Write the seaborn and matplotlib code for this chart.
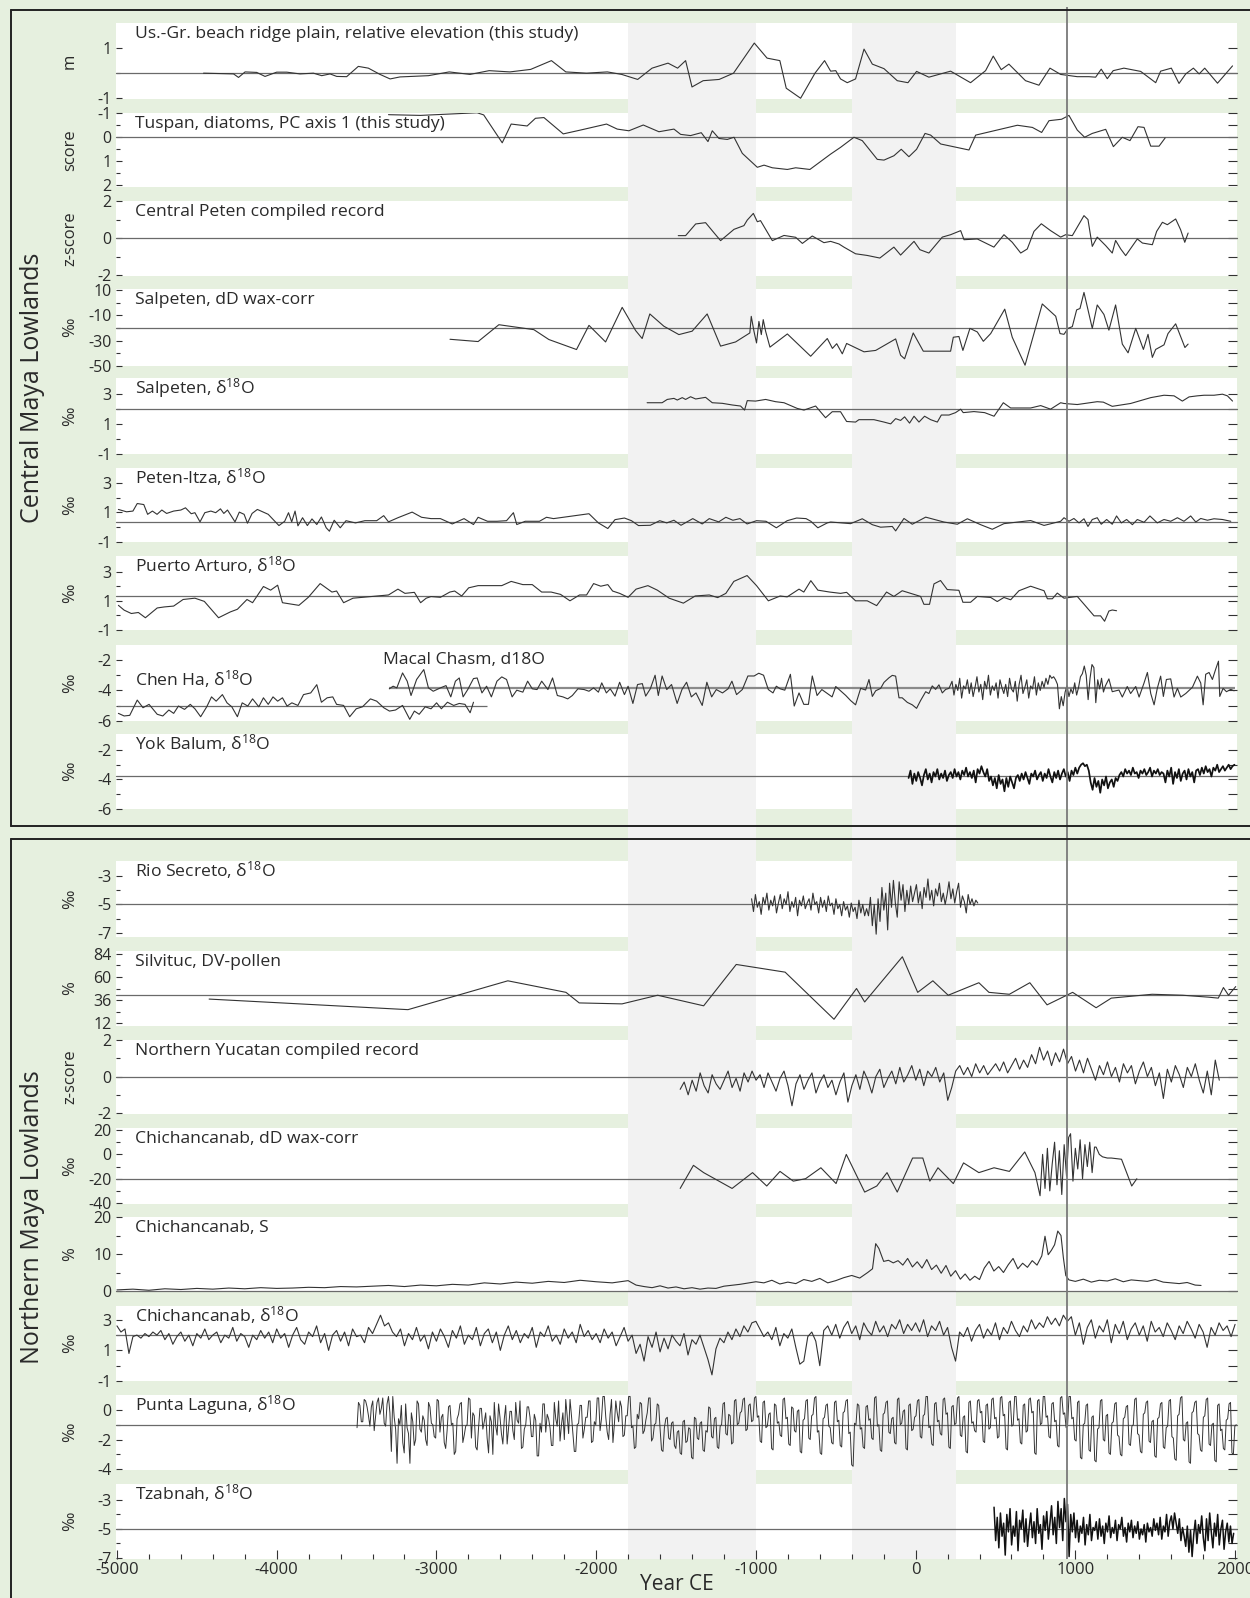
import numpy as np
import matplotlib
matplotlib.use("Agg")
import matplotlib.pyplot as plt
import seaborn as sns
from matplotlib.lines import Line2D

# ---------------------------------------------------------------- data
usgr = [(-4458,0),(-4270,-0.03),(-4239,-0.17),(-4198,0.05),(-4125,0.03),(-4073,-0.13),(-4000,0.04),(-3937,0.04),
        (-3854,-0.03),(-3770,0.0),(-3718,-0.1),(-3666,-0.03),(-3624,-0.13),(-3562,-0.14),(-3489,0.27),(-3426,0.2),
        (-3353,-0.05),(-3290,-0.23),(-3228,-0.15),(-3050,-0.1),(-2920,0.05),(-2790,-0.05),(-2670,0.1),(-2540,0.05),
        (-2410,0.15),(-2280,0.5),(-2190,0.05),(-2060,0.0),(-1930,0.05),(-1840,-0.05),(-1740,-0.25),(-1650,0.2),
        (-1550,0.4),(-1490,0.2),(-1440,0.5),(-1400,-0.55),(-1330,-0.3),(-1230,-0.25),(-1140,0.0),(-1010,1.2),
        (-930,0.6),(-850,0.5),(-810,-0.6),(-720,-1.0),(-630,0.0),(-570,0.5),(-532,0.08),(-500,0.1),(-470,-0.23),
        (-428,-0.38),(-376,-0.23),(-323,0.96),(-271,0.36),(-198,0.18),(-115,-0.3),(-48,-0.38),(6,0.07),(83,-0.16),
        (219,0.08),(344,-0.38),(438,0.1),(486,0.68),(536,0.14),(584,0.36),(688,-0.3),(772,-0.48),(841,0.2),
        (908,-0.05),(1012,-0.14),(1085,-0.14),(1127,-0.16),(1162,0.16),(1200,-0.22),(1237,0.1),(1304,0.2),
        (1409,0.07),(1503,-0.38),(1534,0.08),(1601,0.2),(1649,-0.41),(1691,-0.03),(1739,0.2),(1775,-0.03),
        (1810,0.2),(1890,-0.4),(1984,0.29)]

tuspan = [(-3300,-0.93),(-3100,-0.9),(-2745,-1.01),(-2704,-0.92),(-2588,0.24),(-2532,-0.54),(-2432,-0.46),
          (-2380,-0.78),(-2327,-0.81),(-2206,-0.13),(-2098,-0.29),(-1935,-0.54),(-1868,-0.33),(-1795,-0.26),
          (-1705,-0.5),(-1607,-0.22),(-1513,-0.33),(-1471,-0.11),(-1409,-0.06),(-1342,-0.18),(-1300,0.19),
          (-1273,-0.26),(-1231,0.06),(-1179,0.1),(-1137,0.01),(-1085,0.68),(-991,1.26),(-949,1.17),(-897,1.28),
          (-803,1.35),(-751,1.28),(-662,1.35),(-532,0.71),(-470,0.43),(-386,0.01),(-334,0.15),(-240,0.93),
          (-198,0.96),(-136,0.78),(-90,0.51),(-42,0.82),(6,0.51),(59,-0.15),(94,-0.08),(157,0.29),(334,0.54),
          (376,-0.08),(637,-0.49),(731,-0.4),(789,-0.19),(835,-0.68),(914,-0.74),(960,-0.9),(1012,-0.29),
          (1058,0.01),(1106,-0.15),(1190,-0.32),(1238,0.4),(1294,0.01),(1342,0.15),(1392,-0.43),(1430,-0.4),
          (1472,0.38),(1524,0.38),(1562,0.04)]

cpeten = [(-1486,0.13),(-1440,0.13),(-1377,0.76),(-1315,0.83),(-1263,0.29),(-1221,-0.14),(-1137,0.47),
          (-1075,0.67),(-1054,0.97),(-1016,1.33),(-991,0.88),(-971,0.94),(-897,-0.14),(-824,0.14),(-751,0.04),
          (-709,-0.29),(-647,0.11),(-574,-0.25),(-532,-0.18),(-480,-0.32),(-449,-0.49),(-376,-0.85),(-303,-0.94),
          (-224,-1.08),(-136,-0.49),(-94,-0.92),(-10,-0.18),(27,-0.63),(83,-0.81),(167,0.05),(219,0.18),(282,0.4),
          (303,-0.09),(386,-0.05),(490,-0.49),(553,0.18),(605,-0.23),(658,-0.81),(699,-0.59),(741,0.36),
          (787,0.77),(845,0.4),(908,0.05),(939,0.18),(981,0.13),(1054,1.21),(1079,1.0),(1106,-0.45),(1137,0.05),
          (1190,-0.41),(1231,-0.81),(1252,-0.13),(1284,-0.59),(1315,-0.95),(1388,-0.05),(1420,-0.27),
          (1482,-0.36),(1509,0.36),(1545,0.85),(1576,0.72),(1628,1.03),(1659,0.45),(1685,-0.23),(1706,0.27)]

salp_dd = [(-2915,-28.9),(-2739,-30.7),(-2609,-17.4),(-2390,-21.3),(-2296,-29.1),(-2123,-37),(-2045,-17.9),
           (-1941,-31),(-1837,-3.7),(-1753,-22),(-1712,-28.3),(-1664,-8.9),(-1576,-18.6),(-1482,-25.2),
           (-1399,-22.5),(-1305,-8.9),(-1221,-34.3),(-1127,-31),(-1038,-23.9),(-1029,-10.8),(-1012,-22.6),
           (-996,-31.8),(-981,-14.8),(-966,-25.2),(-954,-13.4),(-939,-22.6),(-912,-35.1),(-803,-24.7),
           (-657,-42.3),(-553,-28.3),(-521,-36.1),(-494,-32.4),(-459,-40.4),(-432,-32.2),(-323,-38.8),
           (-250,-37.7),(-125,-28.6),(-94,-41.5),(-69,-44.3),(-15,-23.9),(48,-38.3),(219,-38.3),(236,-27.3),
           (271,-26.7),(296,-37.7),(340,-20.3),(386,-23.1),(424,-30.5),(470,-24.4),(558,-5.1),(605,-27.3),
           (685,-49.4),(793,-1),(877,-10.7),(904,-24.4),(929,-25),(954,-20.3),(981,-18.9),(1008,-5.7),
           (1029,-4.6),(1054,8.1),(1106,-20.3),(1137,-1.8),(1179,-9.3),(1210,-21.7),(1252,-1.8),(1294,-32.7),
           (1330,-39.6),(1378,-20.3),(1426,-36.9),(1455,-25),(1482,-43.2),(1503,-36.9),(1555,-33.3),
           (1580,-24.4),(1628,-16.7),(1686,-35.4),(1706,-32.7)]

salp_o = [(-1681,2.42),(-1587,2.42),(-1555,2.64),(-1513,2.71),(-1492,2.6),(-1461,2.76),(-1440,2.64),(-1409,2.82),
          (-1377,2.67),(-1315,2.78),(-1273,2.42),(-1210,2.38),(-1148,2.27),(-1096,2.2),(-1071,1.93),(-1054,2.56),
          (-1002,2.53),(-939,2.64),(-877,2.49),(-824,2.42),(-741,2.04),(-699,1.93),(-626,2.2),(-564,1.42),
          (-522,1.82),(-470,1.82),(-432,1.17),(-376,1.13),(-355,1.29),(-261,1.29),(-198,1.13),(-156,1.01),
          (-125,1.36),(-94,1.24),(-69,1.48),(-38,1.06),(-10,1.52),(21,1.13),(56,1.52),(94,1.29),(136,1.13),
          (161,1.6),(209,1.6),(250,1.76),(282,1.99),(298,1.76),(365,1.83),(432,1.76),(491,1.52),(549,2.42),
          (595,2.07),(720,2.07),(783,2.23),(845,1.99),(908,2.42),(929,2.37),(1012,2.3),(1137,2.49),(1175,2.46),
          (1231,2.18),(1346,2.37),(1472,2.76),(1555,2.92),(1618,2.88),(1670,2.53),(1712,2.81),(1764,2.88),
          (1806,2.92),(1868,2.92),(1921,2.99),(1952,2.88),(1984,2.53)]

peten_itza = [(-4991,1.2),(-4940,1.04),(-4900,1.09),(-4873,1.6),(-4832,1.53),(-4808,0.87),(-4778,1.09),(-4749,0.87),
              (-4719,1.16),(-4689,0.93),(-4645,1.09),(-4600,1.16),(-4571,1.31),(-4535,0.91),(-4512,0.98),(-4480,0.36),
              (-4450,0.98),(-4412,1.09),(-4382,0.98),(-4352,1.24),(-4331,0.93),(-4308,1.16),(-4261,0.36),(-4234,1.02),
              (-4204,0.87),(-4183,0.27),(-4154,0.93),(-4121,1.2),(-4053,0.87),(-3986,0.11),(-3950,0.4),(-3926,0.98),
              (-3906,0.36),(-3885,1.09),(-3867,0.09),(-3838,0.64),(-3808,0.11),(-3779,0.56),(-3749,0.18),(-3720,0.69),
              (-3690,-0.04),(-3670,-0.27),(-3640,0.47),(-3602,-0.04),(-3566,0.44),(-3507,0.29),(-3448,0.44),
              (-3374,0.44),(-3330,0.78),(-3300,0.36),(-3241,0.64),(-3152,1.02),(-3093,0.67),(-3034,0.58),(-2975,0.58),
              (-2901,0.22),(-2827,0.58),(-2768,0.18),(-2739,0.67),(-2680,0.4),(-2621,0.4),(-2561,0.44),(-2518,0.98),
              (-2497,0.18),(-2444,0.4),(-2355,0.4),(-2311,0.67),(-2267,0.58),(-2045,0.91),(-1986,0.29),(-1927,-0.09),
              (-1882,0.51),(-1823,0.62),(-1779,0.44),(-1735,0.11),(-1661,0.13),(-1602,0.44),(-1558,0.29),(-1513,0.47),
              (-1469,0.13),(-1395,0.58),(-1336,0.22),(-1292,0.58),(-1233,0.36),(-1188,0.67),(-1144,0.47),(-1100,0.58),
              (-1055,0.22),(-996,0.44),(-937,0.4),(-872,-0.04),(-804,0.44),(-745,0.62),(-686,0.58),(-656,0.4),
              (-612,-0.04),(-553,0.29),(-532,0.35),(-407,0.24),(-334,0.57),(-271,0.17),(-219,0.0),(-146,0.05),
              (-125,-0.25),(-73,0.59),(-21,0.2),(63,0.68),(177,0.35),(261,0.2),(324,0.57),(407,0.17),(480,-0.14),
              (553,0.24),(720,0.45),(804,0.12),(908,0.4),(929,0.64),(960,0.4),(991,0.59),(1023,0.29),(1054,0.57),
              (1079,0.05),(1106,0.52),(1137,0.64),(1162,0.2),(1196,0.52),(1231,0.2),(1258,0.76),(1288,0.29),
              (1321,0.52),(1357,0.17),(1388,0.52),(1430,0.33),(1467,0.76),(1513,0.29),(1555,0.52),(1597,0.4),
              (1639,0.64),(1680,0.4),(1722,0.76),(1754,0.35),(1785,0.59),(1827,0.47),(1868,0.57),(1921,0.52),(1973,0.4)]

puerto_arturo = [(-4991,0.69),(-4955,0.36),(-4910,0.13),(-4866,0.2),(-4822,-0.16),(-4748,0.51),(-4704,0.58),
                 (-4645,0.64),(-4586,1.09),(-4512,1.18),(-4453,0.96),(-4364,-0.16),(-4290,0.24),(-4246,0.42),
                 (-4186,1.09),(-4151,0.87),(-4083,1.98),(-4038,1.73),(-3994,2.07),(-3964,0.87),(-3861,0.69),
                 (-3802,1.24),(-3728,2.18),(-3654,1.6),(-3625,1.67),(-3581,0.87),(-3522,1.18),(-3300,1.4),
                 (-3241,1.8),(-3197,1.51),(-3138,1.58),(-3099,0.87),(-3064,1.18),(-3034,1.29),(-2975,1.24),
                 (-2916,1.6),(-2886,1.67),(-2842,1.33),(-2798,1.89),(-2739,2.04),(-2591,2.04),(-2532,2.33),
                 (-2459,2.11),(-2400,2.11),(-2341,1.6),(-2282,1.6),(-2223,1.44),(-2164,1.0),(-2104,1.4),(-2060,1.4),
                 (-2016,2.18),(-1971,2.0),(-1927,2.11),(-1897,1.67),(-1853,1.51),(-1800,1.24),(-1750,1.8),
                 (-1676,2.04),(-1617,1.73),(-1543,1.18),(-1454,0.84),(-1380,1.33),(-1292,1.4),(-1239,1.22),
                 (-1188,1.51),(-1138,2.33),(-1055,2.73),(-996,2.04),(-922,1.0),(-848,1.33),(-804,1.27),(-730,1.8),
                 (-700,1.6),(-656,2.38),(-612,1.73),(-538,1.6),(-470,1.51),(-432,1.58),(-376,1.0),(-303,1.0),
                 (-244,0.67),(-182,1.6),(-136,1.3),(-84,1.69),(31,1.3),(52,0.76),(87,0.76),(115,2.16),(156,2.39),
                 (198,1.77),(271,1.72),(296,0.9),(344,0.9),(386,1.3),(470,1.23),(511,0.95),(553,1.23),(595,1.07),
                 (647,1.69),(720,2.0),(804,1.69),(825,1.14),(856,1.14),(887,1.53),(929,1.18),(1012,1.3),(1058,0.72),
                 (1117,-0.03),(1158,-0.03),(1183,-0.4),(1210,0.3),(1231,0.37),(1258,0.32)]

chen_ha = [(-4991,-5.5),(-4955,-5.67),(-4920,-5.63),(-4873,-4.63),(-4837,-5.13),(-4799,-4.91),(-4748,-5.56),
           (-4713,-5.67),(-4675,-5.28),(-4645,-5.5),(-4615,-5.02),(-4577,-5.24),(-4541,-4.91),(-4512,-5.2),
           (-4476,-5.72),(-4438,-5.07),(-4408,-4.42),(-4379,-4.7),(-4340,-4.27),(-4311,-4.81),(-4281,-5.07),
           (-4246,-5.72),(-4216,-4.81),(-4181,-5.02),(-4151,-4.55),(-4112,-5.07),(-4083,-4.48),(-4053,-4.91),
           (-4023,-4.42),(-3994,-4.7),(-3964,-4.48),(-3935,-5.02),(-3905,-4.81),(-3867,-4.98),(-3832,-4.27),
           (-3787,-4.16),(-3749,-3.62),(-3720,-4.77),(-3684,-4.48),(-3649,-4.42),(-3625,-4.91),(-3581,-4.98),
           (-3543,-5.72),(-3502,-5.2),(-3463,-5.07),(-3413,-4.55),(-3374,-4.7),(-3330,-5.13),(-3294,-5.35),
           (-3256,-5.28),(-3212,-4.98),(-3167,-5.89),(-3138,-5.35),(-3108,-5.56),(-3070,-5.07),(-3034,-5.2),
           (-2999,-4.81),(-2969,-5.2),(-2931,-4.77),(-2892,-4.98),(-2857,-4.85),(-2821,-4.91),(-2789,-5.46),
           (-2768,-4.77)]
chen_ha_mean_span = (-5000, -2686)

macal_early = [(-3295,-3.89),(-3271,-3.72),(-3248,-3.83),(-3212,-2.85),(-3183,-3.39),(-3159,-4.33),(-3124,-3.28),
               (-3079,-2.63),(-3050,-3.83),(-3020,-4.05),(-2975,-3.83),(-2940,-3.68),(-2910,-4.42),(-2881,-3.39),
               (-2857,-3.18),(-2833,-4.42),(-2804,-3.94),(-2768,-3.22),(-2745,-3.18),(-2715,-4.16),(-2686,-3.72),
               (-2656,-4.42),(-2621,-3.39),(-2591,-3.11),(-2561,-3.28),(-2526,-4.42),(-2497,-3.98),(-2459,-4.11),
               (-2429,-3.39),(-2400,-3.89),(-2370,-3.94),(-2341,-3.39),(-2302,-3.94),(-2273,-3.18),(-2243,-4.33),
               (-2208,-4.42),(-2178,-4.55),(-2149,-4.33),(-2114,-3.89),(-2075,-3.94),(-2045,-4.05),(-2016,-3.83),
               (-1986,-4.11),(-1965,-3.5),(-1936,-4.16),(-1912,-3.89),(-1882,-4.37),(-1853,-3.46),(-1823,-4.27),
               (-1800,-3.72),(-1770,-4.85),(-1741,-3.61),(-1711,-3.55),(-1690,-4.37),(-1661,-3.89),(-1631,-3.0),
               (-1611,-4.33),(-1587,-3.05),(-1558,-3.94),(-1528,-3.61),(-1493,-4.85),(-1463,-3.94),(-1434,-3.46),
               (-1404,-4.42),(-1375,-4.16),(-1336,-4.98),(-1307,-3.46),(-1277,-4.42),(-1248,-3.94),(-1209,-4.16),
               (-1174,-3.89),(-1150,-3.39),(-1121,-4.27),(-1085,-3.94),(-1050,-3.05),(-1011,-3.05),(-982,-2.87),
               (-952,-3.0),(-922,-3.94),(-893,-4.16),(-872,-3.72),(-848,-3.89),(-819,-3.98),(-784,-2.94),
               (-760,-5.02),(-730,-4.16),(-700,-4.91),(-671,-4.91),(-647,-3.05),(-617,-4.33),(-587,-3.94),
               (-558,-4.16),(-523,-4.42),(-500,-3.74),(-470,-4.02),(-438,-4.32),(-407,-4.66),(-376,-4.94),
               (-344,-3.86),(-313,-3.97),(-292,-3.28),(-271,-4.39),(-250,-4.02),(-219,-3.86),(-198,-3.47),
               (-167,-3.17),(-146,-3.01),(-125,-3.06),(-104,-4.48),(-84,-4.48),(-52,-4.78),(-21,-4.94),(6,-5.17),
               (31,-4.66),(63,-4.08),(83,-4.2),(104,-3.7),(125,-3.93),(146,-3.63),(167,-4.16),(188,-3.93),
               (209,-3.86)]
macal_dense_start, macal_dense_step = 228, 12
macal_dense = [-3.4,-4.3,-3.6,-4.0,-3.2,-4.5,-3.7,-3.9,-3.3,-4.2,-3.5,-4.4,-3.8,-3.1,-4.1,-3.6,-4.6,-3.4,-3.9,-3.0,
               -4.3,-3.7,-4.0,-3.5,-4.5,-3.3,-3.8,-4.2,
               -3.6,-4.4,-3.2,-3.9,-4.1,-3.4,-4.7,-3.6,-3.0,-4.2,-3.8,-3.3,-4.5,-3.7,-3.9,-3.1,-4.3,-3.5,-4.0,-3.4,
               -3.8,-3.2,-3.6,
               -3.0,-3.2,-3.1,-3.3,-3.6,
               -5.2,-4.4,-5.0,
               -4.1,-3.7,-4.4,-3.9,-4.2,-3.5,-4.3,-3.8,-3.1,-2.9,-2.4,
               -3.0,-4.6,-3.2,-2.3,-2.5,-4.8,-3.3,-3.9,-3.2,-4.1,-3.7]
macal_late = [(1210,-3.24),(1231,-4.08),(1273,-3.97),(1294,-4.43),(1325,-3.74),(1346,-4.2),(1378,-3.74),(1399,-4.43),
              (1430,-3.51),(1451,-2.82),(1472,-4.2),(1493,-4.94),(1513,-3.86),(1534,-3.06),(1551,-4.39),(1570,-3.28),
              (1597,-3.24),(1618,-4.43),(1639,-3.86),(1660,-4.43),(1691,-4.2),(1733,-3.79),(1764,-3.06),(1785,-3.51),
              (1800,-4.94),(1816,-2.94),(1837,-2.82),(1858,-3.28),(1879,-2.59),(1896,-2.08),(1904,-4.39),(1925,-3.86),
              (1946,-4.08),(1973,-3.93),(1994,-4.02)]
macal_mean_span = (-3300, 2000)

yok_start, yok_step = -44, 12
yok_balum = [-3.9,-3.4,-4.3,-3.6,-4.1,-3.5,-3.9,-4.4,-3.7,-3.3,-4.0,-3.6,-4.2,-3.5,-3.8,-3.3,-4.0,-3.6,-3.9,-3.4,
             -4.1,-3.7,-3.5,-3.9,-3.3,-3.8,-3.5,-4.0,-3.4,-3.7,-3.2,-3.8,-3.5,
             -3.9,-3.4,-4.2,-3.3,-3.6,-3.1,-3.5,-3.8,-3.3,-4.1,
             -3.8,-4.4,-3.9,-4.6,-3.7,-4.3,-4.0,-4.8,-3.9,-4.5,-3.8,-4.2,-4.6,-3.9,
             -3.7,-4.1,-3.6,-4.0,-3.5,-3.9,-4.3,-3.6,-3.8,-3.4,-4.0,-3.7,-3.5,-4.1,-3.6,-3.9,-3.3,-3.8,-4.2,-3.5,
             -3.9,-3.4,-4.0,-3.6,
             -3.3,-3.8,-3.5,-4.1,-3.4,-3.7,-3.2,-3.6,
             -3.2,-3.0,-2.9,-3.1,-3.0,-3.4,
             -4.2,-4.7,-3.9,-4.5,-4.1,-4.9,-4.0,-4.4,-3.8,-4.6,-4.2,-4.0,-4.5,-3.9,-4.1,-3.7,
             -3.5,-3.8,-3.3,-3.6,-3.4,-3.7,-3.2,-3.6,-3.5,-3.9,-3.4,-3.6,-3.3,-3.7,-3.5,-3.2,-3.8,-3.4,-3.6,-3.3,
             -3.7,-3.5,
             -3.6,-4.2,-3.4,-3.8,-3.2,-4.3,-3.5,-3.9,-3.3,-4.1,-3.6,-3.4,-4.0,-3.3,-3.8,-3.5,-4.2,-3.4,
             -3.3,-3.7,-3.2,-3.6,-3.1,-3.5,-3.3,-3.8,-3.2,-3.4,-3.0,-3.5,-3.3,-3.1,-3.4,-3.2,-3.0,-3.3,-3.1,-3.0]

rio_start, rio_step = -1027, 12
rio_secreto = [-4.6,-5.5,-4.3,-5.2,-4.8,-5.7,-4.5,-5.0,-4.2,-5.4,-4.7,-5.1,-4.4,-5.6,-4.9,-4.3,-5.3,-4.6,-5.0,-4.1,
               -5.5,-4.8,-5.2,-4.5,-5.8,-4.7,-5.1,-4.4,-5.3,-4.9,-4.6,-5.4,-4.2,-5.0,-4.8,-5.6,-4.5,-5.2,-4.7,-5.5,
               -4.4,-5.1,-4.9,-5.7,-4.6,-5.3,-5.0,-5.8,-4.8,-5.4,-5.1,-5.9,-4.9,-5.5,-5.2,-6.0,-4.7,-5.6,-5.0,-5.8,
               -5.3,
               -5.8,-4.5,-6.5,-5.0,-7.1,-4.6,-6.2,-3.8,-5.4,-4.2,-6.8,-3.5,-5.2,-3.3,-4.9,-5.9,-3.4,-4.7,-3.6,-5.5,
               -4.0,-5.0,-3.7,-4.8,-4.2,
               -3.6,-4.9,-4.1,-5.3,-3.8,-4.5,-3.2,-4.7,-4.0,-5.1,-3.9,-4.4,-3.5,-4.8,-4.2,-5.0,-4.3,-3.4,-4.6,-3.9,
               -4.9,-4.1,-3.5,-5.2,-4.4,-4.8,-5.6,-4.3,-5.0,-4.6,-5.1,-4.7,-4.9]

silvituc = [(-4423,37),(-3178,26),(-2553,56),(-2189,44),(-2106,33),(-1838,32),(-1615,41),(-1327,30),(-1123,73),
            (-817,65),(-511,16),(-370,48),(-319,34),(-83,81),(13,44),(108,56),(204,41),(396,54),(459,44),(587,42),
            (715,54),(823,31),(983,44),(1130,28),(1225,38),(1417,41),(1481,42),(1672,41),(1832,39),(1895,38),
            (1927,49),(1959,41),(2004,50)]

nyuc_start, nyuc_step = -1474, 25
n_yucatan = [-0.7,-0.3,-1.0,-0.2,-0.8,0.2,-0.5,-0.9,0.1,-0.4,-0.7,-0.2,0.3,-0.6,-0.1,-0.8,0.2,-0.3,0.3,
             -0.2,0.1,-0.6,0.2,-0.3,-0.8,-0.1,0.3,-0.5,-1.6,-0.4,0.1,-0.7,-0.2,0.2,-0.9,-0.3,0.1,-0.6,-0.2,
             -1.0,-0.3,0.2,-1.4,-0.5,0.1,-0.7,0.3,-0.2,-0.9,0.0,0.4,-0.6,-0.1,0.3,-0.4,0.5,-0.3,0.1,0.6,
             -0.2,0.4,-0.5,0.3,0.0,0.5,-0.3,0.2,-1.3,-0.6,0.3,0.6,0.1,0.5,0.0,0.7,0.2,0.6,0.1,0.4,
             0.7,0.3,0.8,0.2,0.6,1.0,0.4,0.9,0.5,1.2,0.7,1.6,0.9,1.4,0.6,1.3,0.8,1.5,0.7,1.1,
             0.3,0.9,0.2,1.0,0.4,-0.2,0.6,0.1,0.8,0.0,0.5,-0.3,0.7,0.2,0.6,-0.4,0.3,0.8,0.0,0.5,
             -0.5,0.2,-1.2,0.4,-0.3,0.6,0.1,-0.6,0.5,0.0,0.7,-0.2,-0.9,0.3,-1.0,0.9,-0.2]

chich_dd = [(-1474,-28),(-1391,-9),(-1327,-15),(-1149,-28),(-1021,-15),(-932,-26),(-849,-14),(-766,-22),(-689,-20),
            (-593,-11),(-498,-24),(-434,0),(-319,-31),(-243,-26),(-179,-15),(-115,-31),(-19,-3),(45,-3),(89,-22),
            (140,-11),(236,-24),(300,-7),(396,-15),(491,-11),(587,-14),(683,2),(747,-15),(779,-34),(795,0),
            (810,-28),(825,5),(840,-30),(855,-8),(870,10),(885,-25),(900,3),(915,-33),(930,8),(945,-18),(958,14),
            (970,17),(985,-22),(1000,5),(1015,-12),(1030,12),(1045,-20),(1060,8),(1075,-10),(1090,10),(1105,-15),
            (1120,6),(1130,6),(1150,0),(1170,-2),(1200,-3),(1225,-3),(1289,-4),(1353,-26),(1385,-20)]

chich_s_year = [-5000,-4900,-4800,-4700,-4600,-4500,-4400,-4300,-4200,-4100,-4000,-3900,-3800,-3700,-3600,-3500,
                -3400,-3300,-3200,-3100,-3000,-2900,-2800,-2700,-2600,-2500,-2400,-2300,-2200,-2100,-2000,
                -1900,-1800,-1750,-1700,-1650,-1600,-1550,-1500,-1450,-1400,-1350,-1300,-1250,-1200,
                -1100,-1000,-950,-900,-850,-800,-750,-700,-650,-600,-550,-500,-450,-400,-350,-300,
                -270,-250,-230,-200,-170,-140,-110,-80,-50,-20,10,40,70,100,130,160,190,220,250,
                280,310,340,370,400,430,460,490,520,550,580,610,640,670,700,730,760,790,810,830,850,870,890,910,925,940,
                960,1000,1050,1100,1150,1200,1250,1300,1350,1400,1450,1500,1550,1600,1650,1700,1750,1787]
chich_s_val = [0.3,0.5,0.2,0.6,0.4,0.7,0.5,0.8,0.6,0.9,0.7,0.8,1.0,0.9,1.2,1.1,1.3,1.5,1.2,1.6,1.4,
               1.8,1.6,2.2,1.9,2.4,2.1,2.6,2.3,2.9,2.5,
               2.2,2.8,1.6,1.2,0.9,1.4,0.8,1.1,0.6,0.9,0.5,0.8,0.7,1.3,
               1.8,2.5,2.2,2.9,1.9,2.4,2.0,3.1,2.6,3.4,2.2,2.8,3.6,4.2,3.5,5.0,
               6.0,12.8,11.5,8.0,8.3,7.6,8.2,7.0,8.8,6.5,7.9,6.2,8.5,5.8,7.0,4.8,6.9,4.0,5.5,
               3.2,4.6,2.9,4.0,3.1,6.2,8.0,5.4,6.6,5.0,7.1,8.8,6.0,7.5,6.4,8.2,7.0,9.5,14.8,9.8,11.0,12.5,16.2,15.0,9.0,4.2,
               3.0,2.6,3.2,2.4,2.9,2.7,3.3,2.5,3.0,2.8,2.6,3.1,2.4,2.2,2.0,2.3,1.6,1.5]

chich_o_start, chich_o_step = -5000, 25
chich_o = [2.6,2.2,2.4,0.8,1.9,2.0,1.8,2.1,1.9,2.2,2.0,2.3,1.7,2.1,1.4,1.9,2.2,1.6,2.0,1.3,
           2.1,1.8,2.4,1.7,2.0,2.2,1.5,2.0,1.8,2.5,1.6,2.1,1.9,1.2,2.0,1.7,2.3,1.8,2.2,1.5,
           2.4,1.8,2.1,1.2,2.0,2.5,1.7,1.4,2.2,1.9,2.6,1.5,2.1,1.0,2.0,2.3,1.6,2.2,1.3,2.4,
           1.9,2.0,1.5,2.5,2.1,2.7,3.3,2.6,2.8,2.2,1.9,2.4,1.3,2.1,1.7,2.5,1.6,2.0,1.1,2.2,
           1.6,2.4,1.9,1.2,2.3,1.8,2.6,1.4,2.0,1.7,2.5,1.3,2.1,2.4,1.5,2.2,1.0,2.0,2.6,1.7,
           2.3,1.5,2.1,1.8,2.5,1.2,2.2,1.9,2.6,1.6,2.0,1.4,2.4,1.8,2.2,1.5,2.7,1.9,2.3,1.7,
           2.1,1.5,2.4,1.8,2.2,1.3,1.9,2.5,1.6,2.0,0.8,1.4,0.3,1.9,1.2,2.2,0.9,1.8,1.1,2.0,
           1.6,1.3,2.1,0.7,1.7,1.4,2.0,1.2,0.4,-0.6,1.1,1.8,1.5,2.2,1.7,2.4,1.9,2.6,2.2,2.8,
           2.9,2.4,1.9,2.2,1.7,2.5,1.3,2.1,1.8,2.4,1.2,0.1,0.3,1.9,2.2,1.6,0.0,2.3,2.6,2.0,
           2.7,1.8,2.5,2.9,2.1,2.6,1.7,2.8,2.3,2.0,2.9,2.2,2.6,1.9,2.7,2.4,3.0,2.1,2.7,2.3,
           2.8,2.2,3.0,1.9,2.6,2.3,2.9,2.0,2.5,1.2,0.3,2.2,1.9,2.5,1.6,2.3,2.7,1.8,2.4,2.0,
           2.8,1.7,2.5,2.1,2.9,2.3,1.9,2.6,2.2,3.0,2.4,2.8,2.5,3.2,2.7,3.1,2.6,3.3,2.9,3.2,
           2.0,2.8,1.4,2.5,3.0,1.8,2.6,2.2,3.0,1.5,2.7,2.1,2.9,1.7,2.4,2.8,2.0,2.6,1.6,2.9,
           2.2,2.5,1.9,2.8,2.3,1.7,2.6,2.1,2.9,2.4,1.8,2.7,2.2,1.2,2.5,2.0,2.8,2.3,2.6,1.9,2.7]

# Punta Laguna: two typed halves of the record (even / odd samples), merged in time order below
pl_start, pl_step = -3497, 17.9
punta_laguna_even = [-1.2,0.3,-0.8,0.6,-0.4,0.2,-1.4,0.5,-0.3,0.8,-1.1,0.9,-2.8,-0.5,-3.6,-1.0,-2.2,0.4,-1.6,-0.2,
                     -2.4,0.6,-1.3,-0.4,-2.0,0.5,-0.9,-1.8,
                     0.7,-1.5,-0.3,-2.6,0.2,-1.0,-3.0,-0.6,0.4,-2.2,-1.1,0.8,-1.9,-0.4,-2.7,0.1,-1.3,-0.2,-2.9,-0.8,
                     0.5,-1.7,-0.5,-2.3,0.3,-1.2,-0.1,-2.0,
                     -0.7,0.6,-2.5,-1.0,0.2,-1.8,-0.3,-3.1,-0.9,0.4,-1.5,-0.6,-2.4,0.5,-1.1,-2.1,-0.2,0.7,-1.6,-0.4,
                     -2.8,-1.0,0.3,-1.9,-0.5,0.6,-2.2,-0.8,
                     0.8,-1.4,0.9,-0.5,-2.0,0.7,-1.0,-0.2,0.6,-1.8,-0.4,0.9,-1.2,-2.6,-0.3,0.5,-1.6,-0.7,0.8,-2.1,
                     -1.0,0.4,-1.3,-2.8,-0.6,-1.9,-0.9,-2.4,
                     -1.5,-2.9,-0.8,-2.2,-1.2,-3.2,-0.5,-1.9,-0.9,-2.7,-1.4,0.2,-1.8,-0.6,-2.5,-1.1,0.4,-1.6,-0.3,-2.3,
                     0.6,-1.0,-0.2,0.7,-1.4,0.3,-0.8,0.8,
                     -0.5,-2.1,0.5,-1.2,-0.3,-2.6,0.4,-0.9,-1.7,0.7,-0.6,-2.3,0.2,-1.4,-0.1,-2.8,-0.7,0.6,-1.9,-0.4,
                     0.8,-1.5,-2.9,-0.6,0.3,-1.1,-2.2,0.5,
                     -0.8,-2.4,-0.2,0.6,-1.6,-3.7,-0.9,0.4,-1.3,-2.5,0.2,-0.7,-1.9,0.8,-1.1,-2.7,-0.3,0.5,-1.5,-0.6,
                     -2.2,0.7,-1.0,-0.1,-2.6,0.3,-1.4,-0.5,
                     0.6,-1.8,-0.4,0.9,-1.2,-2.3,0.4,-0.8,-1.6,0.7,-0.3,-2.5,0.2,-1.0,0.8,-1.7,-0.5,-2.8,0.5,-0.9,
                     -1.4,0.6,-0.2,-2.1,0.3,-1.3,0.7,-0.6,
                     -1.9,0.8,-0.4,-2.6,0.5,-1.1,0.9,-0.7,-2.2,0.3,-1.5,0.7,-0.2,-2.9,0.6,-1.0,0.9,-0.5,-1.8,0.4,
                     -0.8,-2.4,0.8,-0.3,-1.2,0.9,-0.6,-2.0,
                     0.5,-3.2,-1.0,0.3,-2.7,-0.5,-3.4,-1.3,0.6,-2.0,-0.4,-2.9,-0.9,0.4,-1.7,-3.0,-0.6,0.2,-2.3,-1.1,
                     0.7,-1.6,-2.8,-0.3,0.5,-2.1,-0.8,-3.1,
                     -0.6,0.4,-2.5,-1.2,0.6,-1.8,-3.3,-0.4,0.8,-2.0,-0.9,-3.5,-0.2,0.5,-1.6,-2.7,-0.5,0.7,-2.3,-1.0,
                     -3.4,0.3,-1.4,-2.6,-0.7,0.4,-2.9,-1.1]
punta_laguna_odd = [0.5,-0.8,0.7,0.2,-1.1,0.6,-0.4,0.8,0.1,-0.9,0.4,-0.2,0.9,-1.3,-0.6,0.3,-2.9,-1.2,-3.6,-0.8,
                    -2.0,0.4,-1.5,-0.7,-2.4,0.2,-1.0,-1.9,
                    0.6,-0.5,-2.2,-1.4,0.3,-0.9,-2.8,-0.3,0.5,-1.7,-1.0,0.7,-0.2,-2.5,-1.2,0.1,-0.8,-1.9,-0.4,-3.0,
                    -1.1,0.4,-1.6,-0.6,-2.3,-0.1,-1.4,0.5,
                    -0.9,-2.6,-1.3,0.2,-0.5,-1.8,-0.7,-3.1,-1.5,0.4,-0.3,-1.2,-2.4,-0.6,0.6,-1.0,-2.0,-0.4,0.7,-1.6,
                    -2.8,-0.9,0.3,-1.3,-0.5,0.6,-2.1,-1.0,
                    0.8,-0.6,0.9,-1.5,-0.3,-2.2,0.6,-0.8,0.2,-1.7,-0.4,0.9,-1.1,-2.5,-0.6,0.4,-1.4,-0.2,0.8,-1.9,
                    -0.9,0.3,-2.7,-1.2,-0.5,-2.0,-0.8,-2.6,
                    -1.4,-3.0,-0.7,-2.1,-1.3,-3.3,-0.6,-2.0,-0.8,-2.8,-1.5,0.1,-1.9,-0.5,-2.6,-1.0,0.5,-1.7,-0.4,-2.2,
                    0.7,-0.9,-0.1,0.8,-1.3,0.4,-0.7,0.9,
                    -0.4,-2.2,0.6,-1.1,-0.2,-2.7,0.3,-0.8,-1.8,0.8,-0.5,-2.4,0.1,-1.5,0.0,-2.9,-0.6,0.7,-2.0,-0.3,
                    0.9,-1.4,-3.0,-0.5,0.4,-1.2,-2.3,0.6,
                    -0.7,-2.5,-0.1,0.7,-1.5,-3.8,-1.0,0.3,-1.2,-2.6,0.3,-0.6,-2.0,0.9,-1.0,-2.8,-0.2,0.6,-1.6,-0.5,
                    -2.3,0.8,-0.9,0.0,-2.7,0.4,-1.3,-0.4,
                    0.7,-1.9,-0.3,0.9,-1.1,-2.4,0.5,-0.7,-1.7,0.8,-0.2,-2.6,0.3,-0.9,0.9,-1.8,-0.4,-2.9,0.6,-0.8,
                    -1.5,0.7,-0.1,-2.2,0.4,-1.2,0.8,-0.5,
                    -1.8,0.9,-0.3,-2.7,0.6,-1.0,0.9,-0.6,-2.3,0.4,-1.4,0.8,-0.1,-3.0,0.7,-0.9,0.9,-0.4,-1.9,0.5,
                    -0.7,-2.5,0.9,-0.2,-1.1,0.9,-0.5,-2.1,
                    0.6,-3.3,-0.9,0.4,-2.8,-0.4,-3.5,-1.2,0.7,-2.1,-0.3,-3.0,-0.8,0.5,-1.8,-3.1,-0.5,0.3,-2.4,-1.0,
                    0.8,-1.7,-2.9,-0.2,0.6,-2.2,-0.7,-3.2,
                    -0.5,0.5,-2.6,-1.1,0.7,-1.9,-3.4,-0.3,0.9,-2.1,-0.8,-3.6,-0.1,0.6,-1.7,-2.8,-0.4,0.8,-2.4,-0.9,
                    -3.5,0.4,-1.3,-2.7,-0.6,0.5,-3.0,-1.0]

tz_start, tz_step = 491, 10
tzabnah = [-3.5,-5.8,-4.2,-6.3,-3.9,-5.5,-4.6,-6.8,-4.0,-5.2,-3.6,-6.1,-4.8,-5.5,-3.8,-6.5,-4.4,-5.0,-3.7,-5.9,
           -4.3,-6.2,-4.9,-3.9,-5.6,-4.5,-6.0,-3.6,-5.3,-4.7,-6.4,-4.1,-5.1,-3.8,-5.7,-4.6,-3.4,-5.4,-4.2,-6.0,
           -3.1,-4.9,-3.6,-5.8,-2.9,-4.5,-3.3,-6.9,-4.0,-5.2,-3.9,
           -5.6,-4.4,-5.9,-4.8,-5.3,-4.2,-6.1,-4.7,-5.4,-4.0,-5.8,-4.9,-5.1,-4.5,-5.7,-4.3,-5.5,-4.8,-6.0,-4.6,
           -5.2,-4.1,-5.6,-4.9,-5.3,-4.4,-5.8,-4.7,-5.0,-4.2,-5.5,-4.9,-5.9,-4.6,-5.2,-4.4,-5.6,-4.8,-5.3,-4.5,
           -5.7,-5.0,-5.4,-4.7,-5.9,-4.6,-5.2,-4.9,-5.5,-4.3,
           -5.1,-4.6,-5.4,-4.2,-5.7,-4.8,-5.2,-4.0,-5.5,-4.5,-4.1,-5.0,-3.9,-4.6,-5.3,-4.3,-5.8,-4.9,-5.5,-6.2,
           -4.8,-6.6,-5.1,-6.9,-5.4,-4.4,-6.0,-4.7,-5.3,-4.1,-5.6,-6.5,-4.3,-5.8,-3.9,-5.2,-6.3,-4.6,-5.5,-4.0,
           -6.1,-5.0,-4.4,-6.4,-5.2,-4.6,-5.9,-4.8,-6.0,-5.3]

dry_bands = [(-1800, -1000), (-400, 250)]
marker_year = 950
year_ticks = list(range(-5000, 2001, 1000))
year_minor = list(range(-5000, 2001, 200))

# ---------------------------------------------------------------- style
sns.set_style("white")
plt.rcParams['font.family'] = ['Open Sans', 'DejaVu Sans']
plt.rcParams['mathtext.default'] = 'regular'
plt.rcParams['axes.unicode_minus'] = False

BG = '#e6f0df'
BAND = '#f2f2f2'
LINE = '#333333'
DENSE = '#111111'
MEANC = '#6a6a6a'
TXT = '#2a2a2a'
FS_TITLE = 12.6
FS_TICK = 11.5
FS_UNIT = 12

W, H = 1250, 1598
fig = plt.figure(figsize=(W / 100, H / 100), dpi=100)
fig.patch.set_facecolor(BG)

X_LEFT, X_RIGHT = 116, 1237
XLIM = (-5006, 2012)


def add_axes_px(left, top, right, bottom):
    return fig.add_axes([left / W, 1 - bottom / H, (right - left) / W, (bottom - top) / H])


def series(pairs):
    return [p[0] for p in pairs], [p[1] for p in pairs]


def regular(start, step, vals):
    return list(start + step * np.arange(len(vals))), vals


TOPS = [23, 113, 201, 289, 378, 468, 556, 645, 734, 861, 951, 1040, 1128, 1217, 1306, 1395, 1484]
BOTS = [99, 187, 276, 366, 454, 542, 630, 721, 809, 937, 1026, 1114, 1204, 1291, 1381, 1470, 1559]

mac_x = [p[0] for p in macal_early] + list(macal_dense_start + macal_dense_step * np.arange(len(macal_dense))) + [p[0] for p in macal_late]
mac_y = [p[1] for p in macal_early] + macal_dense + [p[1] for p in macal_late]

pl_vals = [v for pair in zip(punta_laguna_even, punta_laguna_odd) for v in pair]
pl_years = list(pl_start + (pl_step / 2) * np.arange(len(pl_vals)))

panels = [
    dict(title='Us.-Gr. beach ridge plain, relative elevation (this study)', unit='m', ylim=(-1.03, 2.0),
         major=[-1, 1], minor=[0], mean=0, data=[series(usgr)]),
    dict(title='Tuspan, diatoms, PC axis 1 (this study)', unit='score', ylim=(2.08, -1.0),
         major=[-1, 0, 1, 2], minor=[-0.5, 0.5, 1.5], mean=0, data=[series(tuspan)]),
    dict(title='Central Peten compiled record', unit='z-score', ylim=(-2.05, 2.0),
         major=[-2, 0, 2], minor=[-1, 1], mean=0, data=[series(cpeten)]),
    dict(title='Salpeten, dD wax-corr', unit='‰', ylim=(-50, 10.8),
         major=[-50, -30, -10, 10], minor=[-40, -20, 0], mean=-20, data=[series(salp_dd)]),
    dict(title='Salpeten, δ$^{18}$O', unit='‰', ylim=(-1, 4.07),
         major=[-1, 1, 3], minor=[0, 2], mean=2, data=[series(salp_o)]),
    dict(title='Peten-Itza, δ$^{18}$O', unit='‰', ylim=(-1, 4.0),
         major=[-1, 1, 3], minor=[0, 2], mean=0.38, data=[series(peten_itza)]),
    dict(title='Puerto Arturo, δ$^{18}$O', unit='‰', ylim=(-0.95, 4.07),
         major=[-1, 1, 3], minor=[0, 2], mean=1.3, data=[series(puerto_arturo)]),
    dict(title='Chen Ha, δ$^{18}$O', unit='‰', ylim=(-6, -1.02), major=[-6, -4, -2], minor=[-5, -3],
         mean=None, data=[series(chen_ha), (mac_x, mac_y)], title_drop=40.5),
    dict(title='Yok Balum, δ$^{18}$O', unit='‰', ylim=(-6, -0.92), major=[-6, -4, -2], minor=[-5, -3],
         mean=-3.75, data=[regular(yok_start, yok_step, yok_balum)], dense=1.25),
    dict(title='Rio Secreto, δ$^{18}$O', unit='‰', ylim=(-7.3, -1.93), major=[-7, -5, -3], minor=[-6, -4],
         mean=-5, data=[regular(rio_start, rio_step, rio_secreto)]),
    dict(title='Silvituc, DV-pollen', unit='%', ylim=(9, 87), major=[12, 36, 60, 84], minor=[24, 48, 72],
         mean=41, data=[series(silvituc)]),
    dict(title='Northern Yucatan compiled record', unit='z-score', ylim=(-2.05, 2.0),
         major=[-2, 0, 2], minor=[-1, 1], mean=0, data=[regular(nyuc_start, nyuc_step, n_yucatan)]),
    dict(title='Chichancanab, dD wax-corr', unit='‰', ylim=(-40.8, 21.7), major=[-40, -20, 0, 20],
         minor=[-30, -10, 10], mean=-20, data=[series(chich_dd)]),
    dict(title='Chichancanab, S', unit='%', ylim=(0, 20), major=[0, 10, 20], minor=[5, 15], mean=0,
         data=[(chich_s_year, chich_s_val)]),
    dict(title='Chichancanab, δ$^{18}$O', unit='‰', ylim=(-1, 3.9), major=[-1, 1, 3], minor=[0, 2], mean=2,
         data=[regular(chich_o_start, chich_o_step, chich_o)]),
    dict(title='Punta Laguna, δ$^{18}$O', unit='‰', ylim=(-4.05, 1.0), major=[-4, -2, 0], minor=[-3, -1],
         mean=-1, data=[(pl_years, pl_vals)], lw=0.7),
    dict(title='Tzabnah, δ$^{18}$O', unit='‰', ylim=(-7.07, -1.9), major=[-7, -5, -3], minor=[-6, -4],
         mean=-5, data=[regular(tz_start, tz_step, tzabnah)], dense=1.1),
]

# underlay for the shaded intervals in the gaps between panels
ax_under = add_axes_px(X_LEFT, TOPS[0], X_RIGHT, BOTS[-1])
ax_under.set_zorder(-1)
ax_under.set_xlim(XLIM)
ax_under.patch.set_alpha(0)
ax_under.axis('off')
for a, b in dry_bands:
    ax_under.axvspan(a, b, color=BAND, lw=0)


def fmt(v):
    return str(int(v)) if float(v).is_integer() else str(v)


n = len(panels)
for i, p in enumerate(panels):
    top, bot = TOPS[i], BOTS[i]
    h = bot - top
    ax = add_axes_px(X_LEFT, top, X_RIGHT, bot)
    ax.set_facecolor('white')
    ax.set_xlim(XLIM)
    ax.set_ylim(p['ylim'])
    for s in ax.spines.values():
        s.set_visible(False)
    for a, b in dry_bands:
        ax.axvspan(a, b, color=BAND, lw=0, zorder=0)
    if p['mean'] is not None:
        ax.axhline(p['mean'], color=MEANC, lw=0.9, zorder=1, clip_on=False)
    for (xs, ys) in p['data']:
        dense = p.get('dense')
        sns.lineplot(x=xs, y=ys, ax=ax, color=DENSE if dense else LINE,
                     lw=dense if dense else p.get('lw', 0.8), sort=False, estimator=None, legend=False, zorder=2)
    if i == 7:
        ch_mean = float(np.mean([v for _, v in chen_ha]))
        ax.hlines(ch_mean, *chen_ha_mean_span, color=MEANC, lw=0.9, zorder=1)
        ax.hlines(float(np.mean(mac_y)), *macal_mean_span, color='#8a8a8a', lw=1.6, zorder=1)
        ax.text((383 - X_LEFT) / (X_RIGHT - X_LEFT), 1 - 19.5 / h, 'Macal Chasm, d18O',
                transform=ax.transAxes, fontsize=FS_TITLE, color=TXT, va='baseline', zorder=5)
    ax.set_ylabel('')
    ax.set_xlabel('')
    ax.set_yticks(p['major'])
    ax.set_yticklabels([fmt(v) for v in p['major']])
    ax.set_yticks(p['minor'], minor=True)
    ax.tick_params(axis='y', which='major', left=True, direction='in', length=4.5, width=0.8,
                   color='#333333', labelsize=FS_TICK, labelcolor=TXT, pad=3)
    ax.tick_params(axis='y', which='minor', left=True, direction='in', length=3, width=0.8, color='#333333')
    sec = ax.secondary_yaxis('right')
    sec.set_yticks(sorted(p['major'] + p['minor']))
    sec.tick_params(axis='y', which='major', right=True, direction='in', length=6.5, width=0.8,
                    color='#333333', labelright=False)
    for s in sec.spines.values():
        s.set_visible(False)
    if i == n - 1:
        ax.set_xticks(year_ticks)
        ax.set_xticklabels([str(t) for t in year_ticks])
        ax.set_xticks(year_minor, minor=True)
        ax.tick_params(axis='x', which='major', bottom=True, direction='in', length=6.5, width=0.8,
                       color='#333333', labelsize=12, labelcolor=TXT, pad=2.5)
        ax.tick_params(axis='x', which='minor', bottom=True, direction='in', length=3.5, width=0.8,
                       color='#333333')
    else:
        ax.tick_params(axis='x', which='both', bottom=False, labelbottom=False)
    ax.text((135 - X_LEFT) / (X_RIGHT - X_LEFT), 1 - p.get('title_drop', 15) / h, p['title'],
            transform=ax.transAxes, fontsize=FS_TITLE, color=TXT, va='baseline', zorder=5)
    fig.text(70 / W, 1 - (top + bot) / 2 / H, p['unit'], rotation=90, ha='center', va='center',
             fontsize=FS_UNIT, color=TXT)

# overlay: vertical marker line
ax_over = add_axes_px(X_LEFT, 7, X_RIGHT, BOTS[-1])
ax_over.set_zorder(10)
ax_over.set_xlim(XLIM)
ax_over.patch.set_alpha(0)
ax_over.axis('off')
ax_over.axvline(marker_year, color='#7a7a7a', lw=1.3)

# region boxes
def fline(xs, ys):
    fig.add_artist(Line2D([x / W for x in xs], [1 - y / H for y in ys], transform=fig.transFigure,
                          color='#222222', lw=1.4, zorder=20))

fline([11, W], [10, 10])
fline([11, 11], [10, 826])
fline([11, W], [826, 826])
fline([11, W], [839, 839])
fline([11, 11], [839, H])

fig.text(33 / W, 1 - 388 / H, 'Central Maya Lowlands', rotation=90, ha='center', va='center',
         fontsize=18, color=TXT)
fig.text(33 / W, 1 - 1217 / H, 'Northern Maya Lowlands', rotation=90, ha='center', va='center',
         fontsize=18, color=TXT)
fig.text(677 / W, 1 - 1585 / H, 'Year CE', ha='center', va='center', fontsize=15, color=TXT)

fig.savefig('out.png', dpi=100, facecolor=BG)
